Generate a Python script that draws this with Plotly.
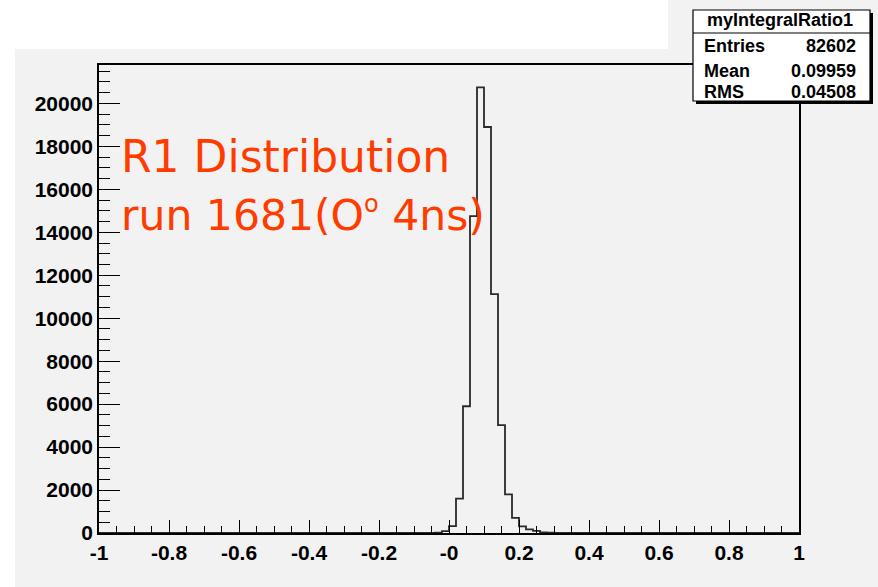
import plotly.graph_objects as go

# Canvas and frame geometry (pixels)
W, H = 878, 587
L, R, T, B = 99, 799, 65, 533


def px(x):
    return (x - L) / (R - L)


def py(y):
    return (B - y) / (B - T)


# Histogram of R1 = integral ratio, 100 bins over [-1, 1]
bin_width = 0.02
bin_lo = [-0.04, -0.02, 0.00, 0.02, 0.04, 0.06, 0.08, 0.10, 0.12,
          0.14, 0.16, 0.18, 0.20, 0.22, 0.24, 0.26, 0.28]
counts = [15, 90, 320, 1600, 5900, 14750, 20750, 18900, 11120,
          5020, 1800, 700, 310, 170, 95, 25, 20]

x_ticks = [-1.0, -0.8, -0.6, -0.4, -0.2, 0.0, 0.2, 0.4, 0.6, 0.8, 1.0]
x_tick_text = ["-1", "-0.8", "-0.6", "-0.4", "-0.2", "-0",
               "0.2", "0.4", "0.6", "0.8", "1"]
y_ticks = [0, 2000, 4000, 6000, 8000, 10000, 12000, 14000, 16000, 18000, 20000]
y_tick_text = [str(v) for v in y_ticks]

hist_name = "myIntegralRatio1"
stat_labels = ["Entries", "Mean", "RMS"]
stat_values = ["82602", "0.09959", "0.04508"]

title_lines = ["R1 Distribution",
               'run 1681(O<sup><span style="font-size:24px">o</span></sup> 4ns)']
title_sizes = [44, 42.5]

# Step outline of the histogram
step_x = [-1.0] + bin_lo + [bin_lo[-1] + bin_width, 1.0]
step_y = [0] + counts + [0, 0]
y_max = max(counts) * 1.05

BG = "#f2f2f2"
bold = dict(family="Liberation Sans, Arial, sans-serif", color="black", weight="bold")

fig = go.Figure()
fig.add_trace(go.Scatter(
    x=step_x, y=step_y, mode="lines", line_shape="hv",
    line=dict(color="#2a2a2a", width=1.8), hoverinfo="skip", showlegend=False,
))

shapes = [
    # white areas around the grey canvas
    dict(type="rect", xref="paper", yref="paper", layer="below",
         x0=px(0), x1=px(15), y0=py(H), y1=py(0),
         fillcolor="white", line=dict(width=0)),
    dict(type="rect", xref="paper", yref="paper", layer="below",
         x0=px(0), x1=px(668), y0=py(49), y1=py(0),
         fillcolor="white", line=dict(width=0)),
    # stats box shadow and box
    dict(type="rect", xref="paper", yref="paper", layer="above",
         x0=px(696), x1=px(873), y0=py(104), y1=py(13),
         fillcolor="black", line=dict(width=0)),
    dict(type="rect", xref="paper", yref="paper", layer="above",
         x0=px(693), x1=px(870), y0=py(101), y1=py(10),
         fillcolor="white", line=dict(color="black", width=1.2)),
    dict(type="line", xref="paper", yref="paper", layer="above",
         x0=px(693), x1=px(870), y0=py(33), y1=py(33),
         line=dict(color="black", width=1.2)),
]

annotations = [
    dict(text=hist_name, x=px(780), y=py(20.5), xref="paper", yref="paper",
         xanchor="center", yanchor="middle", showarrow=False,
         font=dict(size=18, **bold)),
]
for i, (lab, val) in enumerate(zip(stat_labels, stat_values)):
    yc = [46.5, 71.5, 91.5][i]
    annotations.append(dict(text=lab, x=px(702), y=py(yc), xref="paper", yref="paper",
                            xanchor="left", yanchor="middle", showarrow=False,
                            font=dict(size=18, **bold)))
    annotations.append(dict(text=val, x=px(858), y=py(yc), xref="paper", yref="paper",
                            xanchor="right", yanchor="middle", showarrow=False,
                            font=dict(size=18, **bold)))

for line, yc, fs in zip(title_lines, [156.5, 215], title_sizes):
    annotations.append(dict(text=line, x=px(119), y=py(yc), xref="paper", yref="paper",
                            xanchor="left", yanchor="middle", showarrow=False,
                            font=dict(family="DejaVu Sans, sans-serif", size=fs,
                                      color="#ff3c00")))

fig.update_layout(
    width=W, height=H,
    margin=dict(l=L, r=W - R, t=T, b=H - B, pad=0),
    paper_bgcolor=BG, plot_bgcolor=BG,
    shapes=shapes, annotations=annotations,
    xaxis=dict(
        range=[-1, 1], showgrid=False, zeroline=False,
        showline=True, linecolor="black", linewidth=1.5, mirror=True,
        ticks="inside", ticklen=13, tickwidth=1.2, tickcolor="black",
        tickvals=x_ticks, ticktext=x_tick_text,
        tickfont=dict(size=21, **bold),
        minor=dict(ticks="inside", ticklen=7, tickwidth=1.2, tickcolor="black",
                   tick0=-1, dtick=0.05, showgrid=False),
    ),
    yaxis=dict(
        range=[0, y_max], showgrid=False, zeroline=False,
        showline=True, linecolor="black", linewidth=1.5, mirror=True,
        ticks="inside", ticklen=21, tickwidth=1.2, tickcolor="black",
        tickvals=y_ticks, ticktext=y_tick_text,
        tickfont=dict(size=21, **bold),
        minor=dict(ticks="inside", ticklen=11, tickwidth=1.2, tickcolor="black",
                   tick0=0, dtick=500, showgrid=False),
    ),
)

fig.write_html("out.html")
